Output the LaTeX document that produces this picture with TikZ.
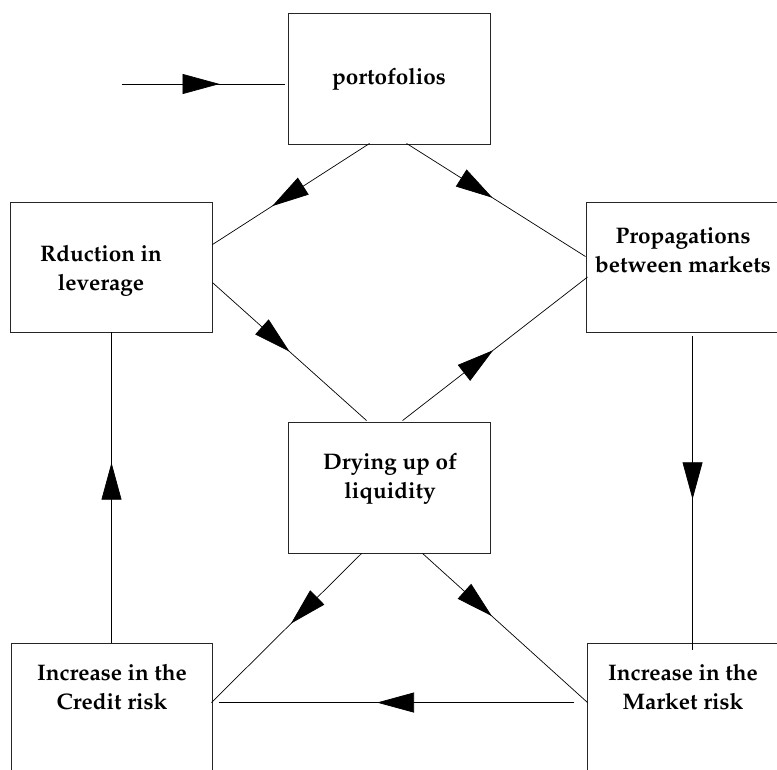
\documentclass[tikz,border=0pt]{standalone}
\usepackage[T1]{fontenc}
\usepackage{mathpazo}
\usetikzlibrary{decorations.markings,arrows.meta,calc}
\tikzset{
  box/.style={draw=black!85, line width=0.9pt, rectangle, inner sep=0pt},
  lbl/.style={align=center, inner sep=0pt, font=\fontsize{22.5}{29}\selectfont\bfseries},
  conn/.style={draw=black, line width=0.7pt},
  midarrow/.style={conn, postaction={decorate}, decoration={markings,
     mark=at position #1 with {\arrow{Triangle[length=37pt,width=20pt]}}}}
}
\begin{document}
\begin{tikzpicture}[x=1pt,y=-1pt]
\useasboundingbox (0,0) rectangle (777,769);
\clip (0,0) rectangle (777,769);
% boxes
\node[box, minimum width=202, minimum height=131] (p) at (389,78.5) {};
\node[box, minimum width=202, minimum height=130] (R) at (111,267) {};
\node[box, minimum width=202, minimum height=130] (P) at (687,267) {};
\node[box, minimum width=202, minimum height=131] (D) at (389,487.5) {};
\node[box, minimum width=201, minimum height=130] (C) at (111.5,708) {};
\node[box, minimum width=202, minimum height=130] (M) at (688,708) {};
% texts
\node[lbl] (pt) at (389,79) {portofolios};
\node[lbl] (Rt) at (101,271) {Rduction in\\leverage};
\node[lbl] (Pt) at (683,250) {Propagations\\between markets};
\node[lbl] (Dt) at (390,479) {Drying up of\\liquidity};
\node[lbl] (Ct) at (112,687) {Increase in the\\Credit risk};
\node[lbl] (Mt) at (683,687) {Increase in the\\Market risk};
% connectors
\coordinate (in) at (122,84);
\draw[midarrow=0.60] (in) -- ($(p.west)+(-3,5.5)$);
\draw[midarrow=0.62] ($(p.south west)+(82,-1)$) -- ($(R.north east)+(0,43)$);
\draw[midarrow=0.48] ($(p.south west)+(119,-1)$) -- ($(P.north west)+(0,55)$);
\draw[midarrow=0.50] ($(R.north east)+(0,81)$) -- ($(D.north west)+(79,-1)$);
\draw[midarrow=0.49] ($(D.north west)+(115,-1)$) -- ($(P.west)+(2,10)$);
\draw[midarrow=0.52] ($(P.south west)+(107,4)$) -- ($(M.north west)+(106,7)$);
\draw[midarrow=0.47] ($(D.south west)+(74,0)$) -- ($(C.north east)+(-1,60)$);
\draw[midarrow=0.42] ($(D.south west)+(135,0)$) -- ($(M.north west)+(1,60)$);
\draw[midarrow=0.555] ($(M.north west)+(-13,60)$) -- ($(C.north east)+(7,60)$);
\draw[midarrow=0.58] (C.north) -- (C.north |- R.south);
\end{tikzpicture}
\end{document}
